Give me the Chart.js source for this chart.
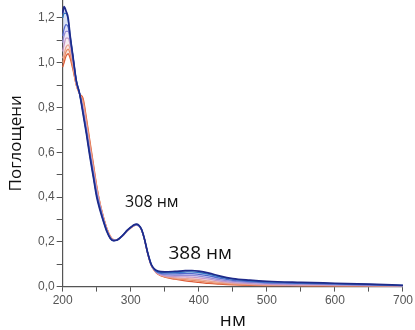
<!DOCTYPE html>
<html>
<head>
<meta charset="utf-8">
<script src="https://cdn.jsdelivr.net/npm/chart.js@4/dist/chart.umd.min.js"></script>
<style>
  html, body { margin: 0; padding: 0; background: #ffffff; }
  #wrap { width: 415px; height: 330px; }
</style>
</head>
<body>
<div id="wrap"><canvas id="spectra"></canvas></div>
<script>
// wavelength, nm
let wl = [200,202,205,208,211,215,220,225,230,235,240,245,250,255,260,265,270,275,280,285,290,295,300,305,308,312,316,320,325,330,335,340,350,365,380,390,400,415,430,450,475,500,550,600,650,700]

// absorbance curves, from the darkest blue (top peak) down to red
let s0 = [1.22,1.25,1.23,1.20,1.12,1.03,0.92,0.86,0.77,0.68,0.58,0.49,0.40,0.34,0.29,0.245,0.215,0.205,0.208,0.22,0.235,0.252,0.265,0.276,0.279,0.274,0.255,0.215,0.15,0.10,0.078,0.069,0.066,0.068,0.071,0.072,0.069,0.060,0.048,0.036,0.029,0.024,0.019,0.015,0.011,0.006]
let s1 = [1.20,1.22,1.22,1.19,1.12,1.03,0.92,0.86,0.775,0.685,0.585,0.495,0.405,0.345,0.292,0.247,0.216,0.205,0.208,0.22,0.235,0.252,0.265,0.275,0.278,0.273,0.254,0.214,0.15,0.10,0.076,0.066,0.062,0.063,0.065,0.066,0.063,0.055,0.044,0.033,0.026,0.021,0.017,0.013,0.010,0.005]
let s2 = [1.12,1.15,1.17,1.16,1.11,1.03,0.92,0.86,0.78,0.69,0.59,0.50,0.41,0.35,0.295,0.249,0.217,0.206,0.208,0.219,0.234,0.251,0.264,0.274,0.277,0.272,0.254,0.214,0.149,0.099,0.075,0.063,0.057,0.057,0.058,0.058,0.055,0.048,0.038,0.028,0.022,0.018,0.014,0.011,0.008,0.004]
let s3 = [1.09,1.12,1.14,1.14,1.10,1.02,0.915,0.86,0.785,0.70,0.60,0.51,0.42,0.355,0.298,0.251,0.218,0.206,0.208,0.219,0.234,0.25,0.264,0.274,0.277,0.272,0.253,0.213,0.148,0.098,0.074,0.061,0.052,0.050,0.050,0.050,0.047,0.040,0.031,0.023,0.018,0.014,0.011,0.009,0.007,0.004]
let s4 = [1.05,1.08,1.11,1.11,1.08,1.01,0.91,0.86,0.80,0.71,0.61,0.52,0.43,0.36,0.302,0.253,0.22,0.207,0.209,0.219,0.233,0.25,0.263,0.273,0.276,0.271,0.253,0.213,0.147,0.097,0.073,0.059,0.048,0.044,0.043,0.042,0.039,0.033,0.025,0.018,0.013,0.010,0.008,0.007,0.005,0.003]
let s5 = [1.02,1.04,1.07,1.08,1.06,1.00,0.905,0.86,0.815,0.725,0.625,0.53,0.44,0.365,0.305,0.255,0.222,0.208,0.209,0.219,0.233,0.249,0.263,0.273,0.276,0.271,0.252,0.213,0.146,0.096,0.072,0.058,0.046,0.039,0.036,0.034,0.031,0.025,0.019,0.014,0.010,0.008,0.006,0.005,0.004,0.003]
let s6 = [1.00,1.02,1.05,1.06,1.04,0.98,0.90,0.86,0.83,0.74,0.64,0.54,0.445,0.368,0.308,0.258,0.224,0.209,0.21,0.219,0.233,0.249,0.262,0.272,0.275,0.27,0.252,0.212,0.146,0.096,0.071,0.056,0.044,0.036,0.031,0.028,0.025,0.019,0.015,0.011,0.008,0.006,0.005,0.004,0.003,0.002]
let s7 = [0.98,1.00,1.03,1.04,1.02,0.97,0.90,0.86,0.84,0.75,0.65,0.55,0.45,0.37,0.31,0.26,0.225,0.21,0.21,0.218,0.232,0.248,0.262,0.272,0.275,0.27,0.252,0.212,0.145,0.095,0.07,0.055,0.042,0.033,0.026,0.022,0.019,0.014,0.011,0.008,0.006,0.005,0.004,0.003,0.003,0.002]

let allSeries = [s0, s1, s2, s3, s4, s5, s6, s7]
let lineColors = ['#1f2a8a', '#2f78c4', '#5468cc', '#9a8ed6', '#c99ac6', '#eba591', '#e88c66', '#dc5a36']
let fillColors = ['rgba(60,90,200,0.22)', 'rgba(80,120,210,0.2)', 'rgba(120,120,215,0.2)', 'rgba(170,150,215,0.2)', 'rgba(215,160,190,0.2)', 'rgba(235,165,140,0.2)', 'rgba(235,140,100,0.2)', 'rgba(0,0,0,0)']

// peak labels
let peakNames = ['308 нм', '388 нм']
let peakX = [331, 402]
let peakY = [0.376, 0.148]
let peakFont = [16, 19]

let xTitle = 'нм'
let yTitle = 'Поглощени'

function $(id) {
  return document.getElementById(id)
}

function buildDatasets() {
  let sets = []
  for (let k = 0; k < allSeries.length; k++) {
    let pts = []
    for (let i = 0; i < wl.length; i++) {
      pts.push({ x: wl[i], y: allSeries[k][i] })
    }
    sets.push({
      data: pts,
      borderColor: lineColors[k],
      backgroundColor: fillColors[k],
      borderWidth: k == 0 ? 1.7 : 1.3,
      pointRadius: 0,
      cubicInterpolationMode: 'monotone',
      fill: k < allSeries.length - 1 ? '+1' : false,
      clip: false
    })
  }
  return sets
}

// draws the two peak labels inside the plot
let peakLabels = {
  id: 'peakLabels',
  afterDatasetsDraw(chart) {
    let ctx = chart.ctx
    let xs = chart.scales.x
    let ys = chart.scales.y
    ctx.save()
    ctx.fillStyle = '#111111'
    ctx.textAlign = 'center'
    ctx.textBaseline = 'middle'
    for (let i = 0; i < peakNames.length; i++) {
      ctx.font = peakFont[i] + 'px "Open Sans"'
      ctx.fillText(peakNames[i], xs.getPixelForValue(peakX[i]), ys.getPixelForValue(peakY[i]))
    }
    ctx.restore()
  }
}

let axisGrey = '#555555'

new Chart($('spectra').getContext('2d'), {
  type: 'line',
  data: { datasets: buildDatasets() },
  plugins: [peakLabels],
  options: {
    responsive: true,
    maintainAspectRatio: false,
    animation: false,
    layout: { padding: { left: 8, right: 12, top: 0, bottom: 0 } },
    plugins: {
      legend: { display: false },
      tooltip: { enabled: false }
    },
    scales: {
      x: {
        type: 'linear',
        min: 200,
        max: 700,
        border: { color: axisGrey, width: 1.2 },
        grid: { drawOnChartArea: false, drawTicks: true, tickLength: 5, color: axisGrey },
        ticks: {
          stepSize: 50,
          autoSkip: false,
          maxRotation: 0,
          padding: 2,
          color: '#555555',
          font: { family: '"Liberation Sans", Arial', size: 12 },
          callback: function (v) { return v % 100 == 0 ? String(v) : '' }
        },
        title: {
          display: true,
          text: xTitle,
          color: '#111111',
          font: { family: '"Open Sans"', size: 19, lineHeight: 1 },
          padding: { top: 1, bottom: 0 }
        }
      },
      y: {
        type: 'linear',
        min: 0,
        max: 1.28,
        border: { color: axisGrey, width: 1.2 },
        grid: { drawOnChartArea: false, drawTicks: true, tickLength: 6, color: axisGrey },
        ticks: {
          stepSize: 0.1,
          includeBounds: false,
          autoSkip: false,
          padding: 2,
          color: '#555555',
          font: { family: '"Liberation Sans", Arial', size: 12 },
          callback: function (v) {
            return Math.round(v * 10) % 2 ? '' : v.toFixed(1).replace('.', ',')
          }
        },
        title: {
          display: true,
          text: yTitle,
          color: '#111111',
          font: { family: '"Open Sans"', size: 17, lineHeight: 1 },
          padding: { top: 0, bottom: 11 }
        },
        afterFit: function (scale) { scale.paddingTop = 0 }
      }
    }
  }
});
</script>
</body>
</html>
